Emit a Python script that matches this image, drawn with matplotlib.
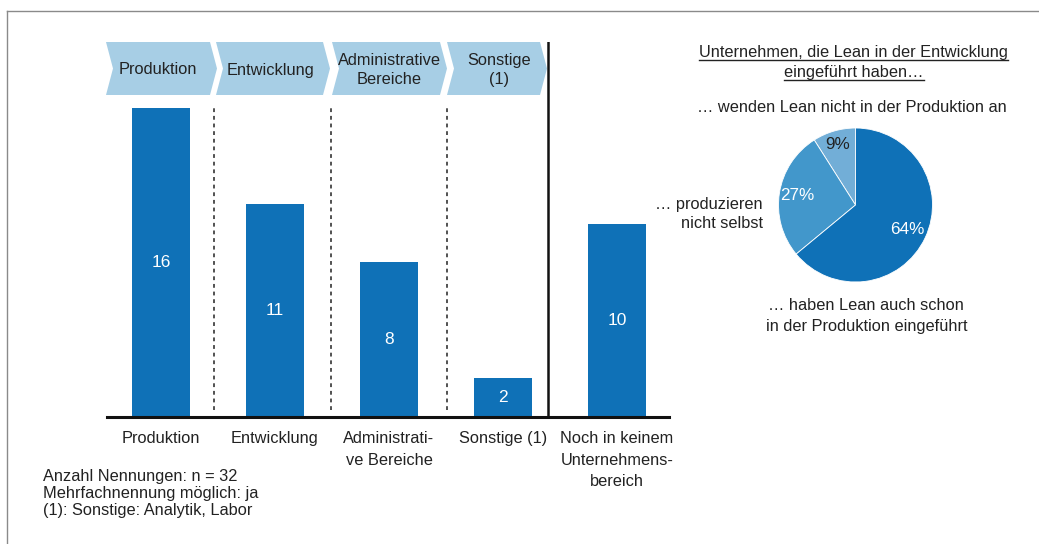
import matplotlib
matplotlib.use("Agg")
import matplotlib.pyplot as plt
from matplotlib.patches import Polygon
from matplotlib.lines import Line2D
import math

# ---- data ----
categories = ["Produktion", "Entwicklung", "Administrati-\nve Bereiche",
              "Sonstige (1)", "Noch in keinem\nUnternehmens-\nbereich"]
values = [16, 11, 8, 2, 10]
chevron_labels = ["Produktion", "Entwicklung", "Administrative\nBereiche", "Sonstige\n(1)"]
pie_labels = ["9%", "27%", "64%"]
pie_values = [9, 27, 64]
notes = ["Anzahl Nennungen: n = 32", "Mehrfachnennung möglich: ja",
         "(1): Sonstige: Analytik, Labor"]

plt.rcParams['font.family'] = ['Liberation Sans', 'DejaVu Sans']
TXT = '#222222'
BAR = '#0F71B7'
CHEV = '#A7CEE5'
FS = 11.8

W, H = 1039, 544
fig = plt.figure(figsize=(W / 100, H / 100), dpi=100)
fig.patch.set_facecolor('white')

# overlay axes in pixel coordinates for decorations
ov = fig.add_axes([0, 0, 1, 1], zorder=0)
ov.set_xlim(0, W)
ov.set_ylim(H, 0)
ov.axis('off')

# frame
ov.add_line(Line2D([7, W], [11, 11], color='#8a8a8a', lw=1.0))
ov.add_line(Line2D([7, 7], [11, H], color='#8a8a8a', lw=1.0))

# chevrons
chev_spans = [(106, 210), (216, 323), (332, 440), (447, 540)]
chev_centers = [158, 271, 389, 499]
top, bot = 42, 95
mid = (top + bot) / 2
for (xl, xr), cx, lab in zip(chev_spans, chev_centers, chevron_labels):
    poly = Polygon([(xl, top), (xr, top), (xr + 7, mid), (xr, bot), (xl, bot), (xl + 7, mid)],
                   closed=True, facecolor=CHEV, edgecolor='none')
    ov.add_patch(poly)
    ov.text(cx, mid + 1.5, lab, ha='center', va='center', fontsize=FS, color=TXT,
            linespacing=1.3)

# notes
for i, t in enumerate(notes):
    ov.text(43, 476 + 17.5 * i, t, ha='left', va='center', fontsize=FS, color=TXT)

# ---- bar axes ----
px_per_unit = 19.28
base_y = 416.5
top_y = 41.7
x_left_px, x_right_px = 107, 669
c0, step = 161, 114
ax = fig.add_axes([x_left_px / W, 1 - base_y / H, (x_right_px - x_left_px) / W,
                   (base_y - top_y) / H], zorder=1)
ax.patch.set_visible(False)
xs = list(range(len(values)))
ax.bar(xs, values, width=58 / step, color=BAR, zorder=2)
ax.set_xlim((x_left_px - c0) / step, (x_right_px - c0) / step)
ax.set_ylim(0, (base_y - top_y) / px_per_unit)
for s in ['top', 'left', 'right']:
    ax.spines[s].set_visible(False)
ax.spines['bottom'].set_linewidth(2.2)
ax.spines['bottom'].set_color('#111111')
ax.set_yticks([])
ax.set_xticks(xs)
ax.set_xticklabels(categories, fontsize=FS, color=TXT, linespacing=1.55)
ax.tick_params(axis='x', length=0, pad=10.5)
for x, v in zip(xs, values):
    ax.text(x, v / 2, str(v), ha='center', va='center', fontsize=12.5, color='white', zorder=3)

# separators
dash_px = [214.3, 330.7, 447]
ax.vlines([(p - c0) / step for p in dash_px], (base_y - 410) / px_per_unit,
          (base_y - 105.7) / px_per_unit, colors='#222222', lw=1.1,
          linestyles=(0, (2.5, 2.5)))
ax.axvline((547.7 - c0) / step, color='#111111', lw=1.8, ymin=0, ymax=1)

# ---- pie ----
pcx, pcy, r = 855.5, 205, 77
pax = fig.add_axes([(pcx - r) / W, 1 - (pcy + r) / H, 2 * r / W, 2 * r / H], zorder=1)
wedges, _ = pax.pie(pie_values, colors=['#72AED7', '#4297CB', BAR], startangle=90,
                    counterclock=True, radius=1,
                    wedgeprops=dict(edgecolor='white', linewidth=0.6))
theta = 90
pct_r = [0.82, 0.76, 0.74]
pct_col = [TXT, 'white', 'white']
for v, lab, rr, col in zip(pie_values, pie_labels, pct_r, pct_col):
    a = math.radians(theta + v * 3.6 / 2)
    pax.text(rr * math.cos(a), rr * math.sin(a), lab, ha='center', va='center',
             fontsize=12.3, color=col)
    theta += v * 3.6
pax.set_xlim(-1, 1)
pax.set_ylim(-1, 1)
pax.axis('off')

# pie texts
t1 = ov.text(853.5, 52, "Unternehmen, die Lean in der Entwicklung", ha='center', va='center',
             fontsize=FS, color=TXT)
t2 = ov.text(854, 72, "eingeführt haben…", ha='center', va='center', fontsize=FS, color=TXT)
ov.text(852, 107, "… wenden Lean nicht in der Produktion an", ha='center', va='center',
        fontsize=FS, color=TXT)
ov.text(763, 204, "… produzieren", ha='right', va='center', fontsize=FS, color=TXT)
ov.text(763, 223, "nicht selbst", ha='right', va='center', fontsize=FS, color=TXT)
ov.text(866, 305, "… haben Lean auch schon", ha='center', va='center', fontsize=FS, color=TXT)
ov.text(867, 327, "in der Produktion eingeführt", ha='center', va='center', fontsize=FS, color=TXT)

fig.canvas.draw()
renderer = fig.canvas.get_renderer()
for t, uy in [(t1, 59.5), (t2, 79.5)]:
    bb = t.get_window_extent(renderer)
    ov.add_line(Line2D([bb.x0, bb.x1], [uy, uy], color=TXT, lw=1.0))

fig.savefig("out.png", dpi=100, facecolor='white')
